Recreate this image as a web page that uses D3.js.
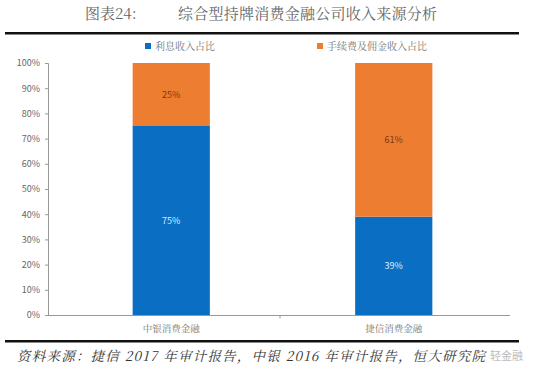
<!DOCTYPE html>
<html>
<head>
<meta charset="utf-8">
<script src="https://cdn.jsdelivr.net/npm/d3@7"></script>
<style>
  body { margin: 0; background: #fff; }
  svg { display: block; }
</style>
</head>
<body>
<div id="chart"></div>
<script>
// data
const companies = ['中银消费金融', '捷信消费金融'];
const seriesNames = ['利息收入占比', '手续费及佣金收入占比'];
const interestShare = [75, 39];
const feeShare = [25, 61];
const yTicks = [0, 10, 20, 30, 40, 50, 60, 70, 80, 90, 100];

const width = 554, height = 367;
const colors = ['#0a6fc2', '#ed7d31'];
const serif = '"Noto Serif CJK SC", "Noto Sans CJK SC", serif';
const sans = '"Noto Sans CJK SC", "Noto Sans", sans-serif';

const svg = d3.select('#chart').append('svg')
  .attr('width', width)
  .attr('height', height);

// title
svg.append('text')
  .attr('x', 85).attr('y', 19)
  .attr('font-family', serif).attr('font-size', 15)
  .attr('fill', '#666')
  .text('图表24:');
svg.append('text')
  .attr('x', 178).attr('y', 19)
  .attr('font-family', serif).attr('font-size', 15)
  .attr('fill', '#666')
  .attr('textLength', 259).attr('lengthAdjust', 'spacing')
  .text('综合型持牌消费金融公司收入来源分析');

svg.append('rect').attr('x', 5).attr('y', 32).attr('width', 514).attr('height', 2.5).attr('fill', '#111');
svg.append('rect').attr('x', 5).attr('y', 340).attr('width', 514).attr('height', 2.5).attr('fill', '#111');

// scales
const y = d3.scaleLinear().domain([0, 100]).range([315, 63]);
const x = d3.scaleBand().domain(companies).range([60, 505]).paddingInner(0.653).paddingOuter(0.3265);

// y axis
const yAxis = svg.append('g')
  .attr('transform', 'translate(48,0)')
  .call(d3.axisLeft(y).tickValues(yTicks).tickFormat(d => d + '%').tickSize(3).tickPadding(5));
yAxis.select('.domain').attr('stroke', '#999');
yAxis.selectAll('.tick line').attr('stroke', '#999');
yAxis.selectAll('text').attr('font-family', sans).attr('font-size', 9).attr('fill', '#666');

// x axis line
svg.append('line').attr('x1', 45).attr('x2', 510).attr('y1', 315.5).attr('y2', 315.5).attr('stroke', '#999');
svg.append('line').attr('x1', 280).attr('x2', 280).attr('y1', 315.5).attr('y2', 318.5).attr('stroke', '#999');

// stacked bars
const rows = companies.map((c, i) => ({ company: c, interest: interestShare[i], fee: feeShare[i] }));
const stack = d3.stack().keys(['interest', 'fee'])(rows);

const layer = svg.selectAll('g.layer')
  .data(stack)
  .join('g')
  .attr('class', 'layer')
  .attr('fill', (d, i) => colors[i]);

layer.selectAll('rect')
  .data(d => d)
  .join('rect')
  .attr('x', d => x(d.data.company))
  .attr('width', x.bandwidth())
  .attr('y', d => y(d[1]))
  .attr('height', d => y(d[0]) - y(d[1]));

layer.selectAll('text')
  .data((d, i) => d.map(v => ({ v, i })))
  .join('text')
  .attr('x', d => x(d.v.data.company) + x.bandwidth() / 2)
  .attr('y', d => (y(d.v[0]) + y(d.v[1])) / 2 + 3)
  .attr('text-anchor', 'middle')
  .attr('font-family', sans).attr('font-size', 9)
  .attr('fill', d => d.i === 0 ? '#dbeeff' : '#7a3a10')
  .text(d => (d.v[1] - d.v[0]) + '%');

// x labels
svg.selectAll('text.xlab')
  .data(companies)
  .join('text')
  .attr('class', 'xlab')
  .attr('x', d => x(d) + x.bandwidth() / 2)
  .attr('y', 332)
  .attr('text-anchor', 'middle')
  .attr('font-family', serif).attr('font-size', 9.5)
  .attr('fill', '#777')
  .text(d => d);

// legend
const legendX = [145, 317];
const legend = svg.selectAll('g.legend')
  .data(seriesNames)
  .join('g')
  .attr('class', 'legend')
  .attr('transform', (d, i) => `translate(${legendX[i]},42)`);
legend.append('rect').attr('width', 6).attr('height', 6).attr('y', 1).attr('fill', (d, i) => colors[i]);
legend.append('text')
  .attr('x', 10).attr('y', 8)
  .attr('font-family', serif).attr('font-size', 10)
  .attr('fill', '#777')
  .text(d => d);

// source
svg.append('text')
  .attr('x', 17).attr('y', 361)
  .attr('font-family', serif).attr('font-size', 13.5)
  .attr('font-style', 'italic')
  .attr('fill', '#333')
  .attr('textLength', 468).attr('lengthAdjust', 'spacing')
  .text('资料来源：捷信 2017 年审计报告，中银 2016 年审计报告，恒大研究院');
svg.append('text')
  .attr('x', 490).attr('y', 360)
  .attr('font-family', sans).attr('font-size', 11)
  .attr('fill', '#bbb')
  .text('轻金融');
</script>
</body>
</html>
